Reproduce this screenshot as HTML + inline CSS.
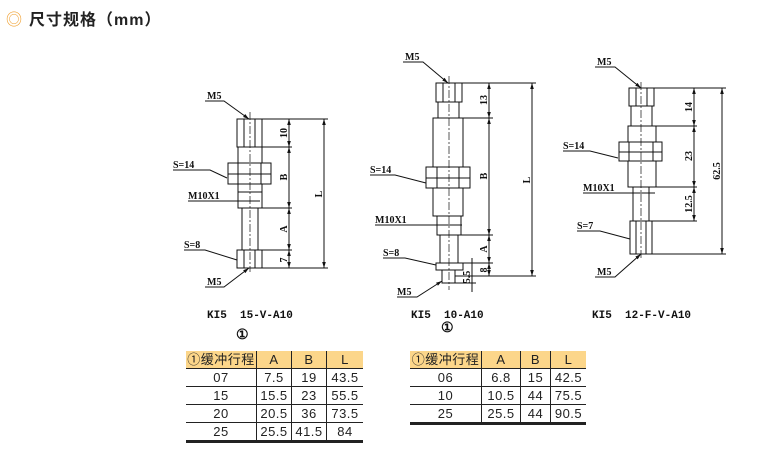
<!DOCTYPE html>
<html><head><meta charset="utf-8"><style>
body{margin:0;width:766px;height:456px;background:#fff;position:relative;overflow:hidden;font-family:"Liberation Sans","Noto Sans CJK SC",sans-serif}
.title{position:absolute;left:6px;top:6px;font-size:16px;font-weight:bold;color:#222;letter-spacing:1px}
.title span{color:#f0a030;font-weight:normal;margin-right:6px}
table{position:absolute;border-collapse:collapse;font-size:13px;color:#222;letter-spacing:0.5px}
td{text-align:center;height:17px;padding:0;line-height:17px}
tr.h td{background:#fcd68a}
td+td{border-left:1px solid #222}
tr:not(.h) td{border-top:1px solid #222}
tr:last-child td{border-bottom:3px solid #222}
svg{position:absolute;left:0;top:0}
svg text{font-family:"Liberation Serif",serif;font-weight:bold;font-size:10px;fill:#111}
svg text.cap{font-family:"Liberation Mono",monospace;font-size:11px;white-space:pre}
</style></head><body>
<div class="title"><span>◎</span>尺寸规格（mm）</div>
<svg width="766" height="456" viewBox="0 0 766 456">
<defs><marker id="a" viewBox="0 0 10 10" refX="10" refY="5" markerWidth="6" markerHeight="6" orient="auto-start-reverse"><path d="M0,2 L10,5 L0,8z" fill="#111"/></marker></defs>
<g fill="none" stroke="#111" stroke-width="1">
<!-- drawing 1 -->
<rect x="237" y="119" width="25" height="28"/><line x1="244" y1="119" x2="244" y2="147"/><line x1="255" y1="119" x2="255" y2="147"/>
<rect x="238" y="147" width="24" height="45"/>
<rect x="228" y="163" width="43" height="21" fill="#fff"/><line x1="228" y1="174" x2="271" y2="174"/><line x1="238" y1="163" x2="238" y2="184"/><line x1="261" y1="163" x2="261" y2="184"/>
<rect x="238" y="192" width="24" height="16"/>
<rect x="242" y="208" width="16" height="42"/>
<rect x="237" y="250" width="25" height="18"/><line x1="244" y1="250" x2="244" y2="268"/><line x1="255" y1="250" x2="255" y2="268"/>
<line x1="250" y1="112" x2="250" y2="272" stroke-dasharray="8,2,2,2" stroke-width="0.7"/>
<line x1="262" y1="119" x2="328" y2="119"/><line x1="262" y1="147" x2="292" y2="147"/><line x1="262" y1="208" x2="292" y2="208"/><line x1="262" y1="250" x2="292" y2="250"/><line x1="262" y1="268" x2="328" y2="268"/>
<line x1="289" y1="119" x2="289" y2="147" marker-start="url(#a)" marker-end="url(#a)"/><line x1="289" y1="147" x2="289" y2="208" marker-start="url(#a)" marker-end="url(#a)"/><line x1="289" y1="208" x2="289" y2="250" marker-start="url(#a)" marker-end="url(#a)"/><line x1="289" y1="250" x2="289" y2="268" marker-start="url(#a)" marker-end="url(#a)"/>
<line x1="324" y1="119" x2="324" y2="268" marker-start="url(#a)" marker-end="url(#a)"/>
<polyline points="173,170 210,170 227,178"/><polyline points="188,201 260,201"/><polyline points="184,250 205,250 237,260"/>
<polyline points="205,101 224,101 249,119" marker-end="url(#a)"/><polyline points="205,287 224,287 249,268" marker-end="url(#a)"/>
<!-- drawing 2 -->
<rect x="436" y="83" width="26" height="19"/><line x1="443" y1="83" x2="443" y2="102"/><line x1="455" y1="83" x2="455" y2="102"/>
<rect x="438" y="102" width="21" height="16"/>
<rect x="433" y="118" width="30" height="98"/>
<rect x="426" y="167" width="44" height="21" fill="#fff"/><line x1="426" y1="178" x2="470" y2="178"/><line x1="437" y1="167" x2="437" y2="188"/><line x1="459" y1="167" x2="459" y2="188"/>
<rect x="437" y="216" width="24" height="19"/>
<rect x="440" y="235" width="18" height="28"/>
<rect x="436" y="263" width="27" height="7"/>
<rect x="442" y="270" width="13" height="13"/>
<line x1="449" y1="76" x2="449" y2="290" stroke-dasharray="8,2,2,2" stroke-width="0.7"/>
<line x1="462" y1="83" x2="536" y2="83"/><line x1="463" y1="118" x2="493" y2="118"/><line x1="461" y1="235" x2="493" y2="235"/><line x1="463" y1="263" x2="493" y2="263"/><line x1="455" y1="276" x2="536" y2="276"/>
<line x1="472" y1="258" x2="472" y2="292"/><line x1="455" y1="283" x2="476" y2="283"/>
<line x1="489" y1="83" x2="489" y2="118" marker-start="url(#a)" marker-end="url(#a)"/><line x1="489" y1="118" x2="489" y2="235" marker-start="url(#a)" marker-end="url(#a)"/><line x1="489" y1="235" x2="489" y2="263" marker-start="url(#a)" marker-end="url(#a)"/><line x1="489" y1="263" x2="489" y2="276" marker-start="url(#a)" marker-end="url(#a)"/>
<line x1="532" y1="83" x2="532" y2="276" marker-start="url(#a)" marker-end="url(#a)"/>
<polyline points="370,175 395,175 426,183"/><polyline points="375,225 462,225"/><polyline points="383,258 405,258 436,265"/>
<polyline points="403,62 423,62 448,83" marker-end="url(#a)"/><polyline points="397,297 417,297 442,281" marker-end="url(#a)"/>
<!-- drawing 3 -->
<rect x="629" y="88" width="25" height="18"/><line x1="636" y1="88" x2="636" y2="106"/><line x1="647" y1="88" x2="647" y2="106"/>
<rect x="631" y="106" width="21" height="20"/>
<rect x="628" y="126" width="28" height="61"/>
<rect x="619" y="142" width="43" height="19" fill="#fff"/><line x1="619" y1="152" x2="662" y2="152"/><line x1="629" y1="142" x2="629" y2="161"/><line x1="653" y1="142" x2="653" y2="161"/>
<rect x="633" y="187" width="16" height="34"/>
<rect x="630" y="221" width="22" height="33"/><line x1="636" y1="221" x2="636" y2="254"/><line x1="646" y1="221" x2="646" y2="254"/>
<line x1="641" y1="82" x2="641" y2="260" stroke-dasharray="8,2,2,2" stroke-width="0.7"/>
<line x1="654" y1="88" x2="726" y2="88"/><line x1="656" y1="126" x2="697" y2="126"/><line x1="656" y1="187" x2="697" y2="187"/><line x1="649" y1="221" x2="697" y2="221"/><line x1="652" y1="254" x2="726" y2="254"/>
<line x1="694" y1="88" x2="694" y2="126" marker-start="url(#a)" marker-end="url(#a)"/><line x1="694" y1="126" x2="694" y2="187" marker-start="url(#a)" marker-end="url(#a)"/><line x1="694" y1="187" x2="694" y2="221" marker-start="url(#a)" marker-end="url(#a)"/>
<line x1="722" y1="88" x2="722" y2="254" marker-start="url(#a)" marker-end="url(#a)"/>
<polyline points="563,151 590,151 618,158"/><polyline points="583,193 655,193"/><polyline points="577,231 600,231 630,239"/>
<polyline points="595,67 615,67 641,88" marker-end="url(#a)"/><polyline points="595,277 615,277 641,254" marker-end="url(#a)"/>
</g>
<g>
<text x="207" y="99">M5</text><text x="173" y="168">S=14</text><text x="188" y="199">M10X1</text><text x="184" y="248">S=8</text><text x="207" y="285">M5</text>
<text transform="translate(287,133) rotate(-90)" text-anchor="middle">10</text>
<text transform="translate(287,177) rotate(-90)" text-anchor="middle">B</text>
<text transform="translate(287,229) rotate(-90)" text-anchor="middle">A</text>
<text transform="translate(287,260) rotate(-90)" text-anchor="middle">7</text>
<text transform="translate(322,194) rotate(-90)" text-anchor="middle">L</text>
<text x="405" y="60">M5</text><text x="370" y="173">S=14</text><text x="375" y="223">M10X1</text><text x="383" y="256">S=8</text><text x="397" y="295">M5</text>
<text transform="translate(487,100) rotate(-90)" text-anchor="middle">13</text>
<text transform="translate(487,176) rotate(-90)" text-anchor="middle">B</text>
<text transform="translate(487,249) rotate(-90)" text-anchor="middle">A</text>
<text transform="translate(487,270) rotate(-90)" text-anchor="middle">8</text>
<text transform="translate(470,277) rotate(-90)" text-anchor="middle">5.5</text>
<text transform="translate(530,180) rotate(-90)" text-anchor="middle">L</text>
<text x="597" y="65">M5</text><text x="563" y="149">S=14</text><text x="583" y="191">M10X1</text><text x="577" y="229">S=7</text><text x="597" y="275">M5</text>
<text transform="translate(692,107) rotate(-90)" text-anchor="middle">14</text>
<text transform="translate(692,156) rotate(-90)" text-anchor="middle">23</text>
<text transform="translate(692,204) rotate(-90)" text-anchor="middle">12.5</text>
<text transform="translate(720,171) rotate(-90)" text-anchor="middle">62.5</text>
<text class="cap" x="207" y="318">KI5  15-V-A10</text>
<text x="236" y="339" style="font-size:14px">①</text>
<text class="cap" x="411" y="318">KI5  10-A10</text>
<text x="441" y="332" style="font-size:14px">①</text>
<text class="cap" x="592" y="318">KI5  12-F-V-A10</text>
</g>
</svg>
<table style="left:186px;top:351px;width:177px">
<tr class="h"><td style="width:70px">①缓冲行程</td><td style="width:34px">A</td><td style="width:34px">B</td><td>L</td></tr>
<tr><td>07</td><td>7.5</td><td>19</td><td>43.5</td></tr>
<tr><td>15</td><td>15.5</td><td>23</td><td>55.5</td></tr>
<tr><td>20</td><td>20.5</td><td>36</td><td>73.5</td></tr>
<tr><td>25</td><td>25.5</td><td>41.5</td><td>84</td></tr>
</table>
<table style="left:410px;top:351px;width:176px">
<tr class="h"><td style="width:71px">①缓冲行程</td><td style="width:38px">A</td><td style="width:29px">B</td><td>L</td></tr>
<tr><td>06</td><td>6.8</td><td>15</td><td>42.5</td></tr>
<tr><td>10</td><td>10.5</td><td>44</td><td>75.5</td></tr>
<tr><td>25</td><td>25.5</td><td>44</td><td>90.5</td></tr>
</table>
</body></html>
